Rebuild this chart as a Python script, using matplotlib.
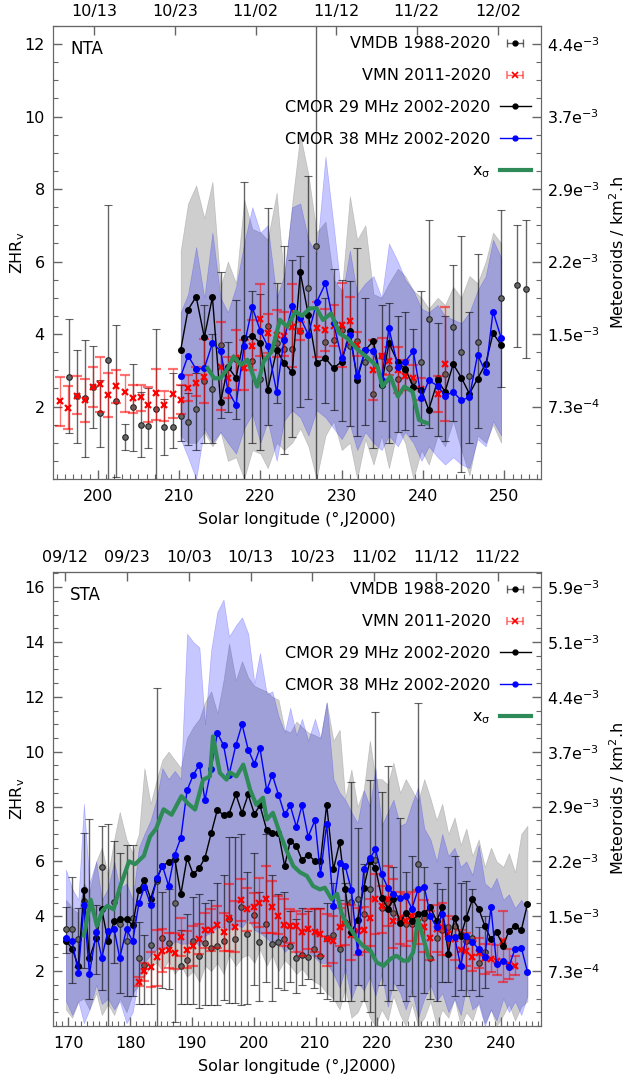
import numpy as np
import matplotlib.pyplot as plt
from matplotlib.lines import Line2D
from matplotlib.ticker import MultipleLocator, NullLocator

# ---------------- NTA ----------------
nta_vmdb_sl = [196.5, 197.4, 198.4, 199.4, 200.3, 201.3, 202.3, 203.3, 204.3, 205.3, 206.2, 207.2,
               208.2, 209.2, 210.2, 211.1, 212.1, 213.1, 214.1, 215.1, 216.0, 217.0, 218.0, 219.0,
               220.0, 220.9, 222.0, 222.9, 223.9, 224.9, 225.9, 226.8, 228.0, 229.0, 230.0, 231.0,
               231.9, 232.9, 233.9, 234.9, 235.8, 236.9, 237.8, 238.8, 239.8, 240.7, 241.8, 242.7,
               243.7, 244.7, 245.7, 246.7, 249.6, 251.6, 252.6]
nta_vmdb_zhr = [2.82, 2.28, 2.23, 2.55, 1.82, 3.27, 2.16, 1.15, 2.00, 1.50, 1.47, 1.93,
                1.44, 1.44, 1.75, 1.56, 1.93, 2.70, 2.48, 3.70, 3.10, 3.30, 3.89, 3.25,
                2.75, 4.21, 3.75, 3.60, 3.58, 4.07, 5.27, 6.44, 3.79, 3.83, 4.11, 3.68,
                3.82, 3.24, 2.35, 3.40, 3.06, 2.75, 3.00, 2.70, 3.24, 4.41, 2.80, 2.90,
                4.19, 3.50, 2.85, 3.79, 4.99, 5.34, 5.25]
nta_vmdb_lo = [1.28, 0.99, 0.60, 1.40, 0.88, 0.00, 0.05, 0.80, 0.77, 0.60, 0.85, 0.00,
               0.66, 0.85, 1.05, 0.93, 0.80, 1.00, 1.00, 1.68, 1.85, 1.65, 0.00, 1.00,
               0.80, 1.50, 2.10, 0.70, 1.15, 2.00, 2.20, -1.0, 2.10, 1.90, 1.60, 1.45,
               1.20, 1.50, 0.85, 1.60, 1.00, 1.30, 1.35, 1.20, 1.50, 1.40, 1.20, 1.05,
               1.60, 0.20, 1.00, 1.40, 2.53, 3.63, 3.33]
nta_vmdb_hi = [4.41, 3.55, 3.84, 3.67, 2.74, 7.55, 4.25, 1.51, 3.18, 2.39, 2.50, 4.14,
               2.22, 2.92, 2.59, 2.37, 2.93, 4.79, 4.00, 5.70, 3.78, 4.95, 8.20, 5.20,
               5.10, 7.49, 5.40, 6.42, 6.05, 6.15, 8.35, 14.0, 5.00, 5.80, 5.50, 5.45,
               6.38, 5.00, 3.80, 4.80, 4.85, 4.50, 4.60, 4.15, 5.20, 7.14, 4.30, 4.50,
               5.90, 6.70, 4.60, 6.20, 7.43, 7.02, 7.16]

nta_vmn_sl = [195.4, 196.4, 197.4, 198.4, 199.4, 200.3, 201.3, 202.3, 203.3, 204.3, 205.3, 206.2,
              207.2, 208.2, 209.2, 210.2, 211.1, 212.1, 213.1, 215.1, 216.0, 217.0, 218.0, 219.0,
              220.0, 220.9, 222.0, 222.9, 223.9, 224.9, 226.9, 228.0, 229.0, 230.0, 231.0, 231.9,
              233.9, 234.9, 235.8, 236.9, 237.8, 238.8, 239.8, 241.8, 242.7]
nta_vmn_zhr = [2.14, 1.95, 2.28, 2.17, 2.55, 2.63, 2.32, 2.57, 2.39, 2.23, 2.26, 2.05,
               2.37, 2.05, 2.35, 2.17, 2.51, 2.66, 2.81, 3.10, 2.80, 3.33, 3.06, 3.67,
               4.41, 4.02, 3.98, 3.95, 4.19, 4.07, 4.16, 4.11, 4.22, 4.25, 4.37, 3.70,
               3.00, 3.40, 3.26, 3.01, 2.85, 2.80, 2.48, 2.35, 3.17]
nta_vmn_lo = [1.47, 1.37, 1.80, 1.56, 2.00, 1.86, 1.70, 2.10, 1.85, 1.82, 1.88, 1.56,
              1.63, 1.59, 1.68, 1.80, 2.14, 2.28, 2.09, 1.91, 2.23, 2.46, 2.46, 3.01,
              3.40, 3.47, 3.38, 3.40, 3.10, 3.84, 3.38, 3.54, 3.66, 3.10, 3.73, 3.40,
              2.18, 2.90, 2.87, 2.37, 2.46, 2.48, 2.18, 1.86, 1.59]
nta_vmn_hi = [2.81, 2.57, 2.83, 2.75, 3.10, 3.38, 2.92, 3.00, 2.87, 2.60, 2.60, 2.53,
              3.03, 2.44, 3.03, 2.60, 2.86, 3.08, 3.86, 4.34, 3.38, 4.10, 3.84, 4.39,
              5.37, 4.56, 4.65, 4.60, 5.37, 4.34, 4.87, 4.70, 4.80, 5.40, 5.03, 4.06,
              3.84, 3.88, 3.64, 3.64, 3.28, 3.15, 2.78, 2.83, 4.74]

nta_cmor_sl = [210.2, 211.1, 212.1, 213.1, 214.1, 215.1, 216.0, 217.0, 218.0, 219.0, 220.0,
               220.9, 222.0, 222.9, 223.9, 224.9, 225.9, 226.9, 228.0, 229.0, 230.0, 231.0,
               231.9, 232.9, 233.9, 234.9, 235.8, 236.9, 237.8, 238.8, 239.8, 240.7, 241.8,
               242.7, 243.7, 244.7, 245.7, 246.7, 247.7, 248.6, 249.6]
nta_c29 = [3.56, 4.67, 5.03, 3.91, 5.02, 2.12, 3.10, 2.79, 3.89, 3.95, 3.75,
           2.46, 3.56, 3.21, 2.94, 5.70, 4.52, 3.20, 3.33, 3.06, 3.24, 4.07,
           2.74, 3.56, 3.81, 2.60, 3.75, 3.22, 3.04, 2.55, 2.46, 1.91, 2.72,
           2.41, 3.17, 2.80, 2.35, 2.77, 3.18, 4.02, 3.70]
nta_c38 = [2.83, 3.40, 3.03, 3.05, 3.75, 3.54, 2.45, 2.04, 3.68, 4.74, 4.08,
           3.66, 2.40, 3.84, 4.76, 4.45, 3.98, 4.87, 5.40, 4.30, 3.33, 3.96,
           2.83, 3.56, 3.54, 2.74, 4.16, 3.10, 3.24, 3.52, 2.23, 2.72, 2.57,
           2.30, 2.40, 2.17, 2.26, 3.43, 2.94, 4.62, 3.89]
nta_c29_lo = [1.2, 1.0, 1.0, 1.3, 0.9, 1.3, 0.5, 0.6, 0.0, 0.8, 0.7,
              0.3, 1.0, 0.8, 1.0, 1.4, 0.9, 0.0, 1.2, 1.6, 0.8, 1.0,
              0.0, 1.1, 0.4, 1.2, 0.3, 1.4, 1.0, 0.0, 0.8, 0.4, 1.2,
              0.9, 1.6, 0.8, 0.1, 1.2, 1.0, 1.5, 1.0]
nta_c29_hi = [6.3, 7.6, 8.1, 7.2, 8.2, 5.3, 6.0, 5.4, 7.7, 6.9, 6.8,
              6.6, 7.9, 5.5, 7.6, 9.5, 8.4, 6.8, 7.1, 5.5, 5.2, 7.8,
              6.6, 7.0, 5.1, 5.0, 5.4, 5.8, 5.6, 5.2, 5.0, 4.7, 5.0,
              4.8, 5.3, 5.0, 5.6, 5.4, 6.0, 6.8, 6.5]
nta_c38_lo = [1.1, 0.6, 0.0, 1.4, 1.0, 1.3, 1.0, 0.7, 1.4, 1.8, 1.0,
              1.6, 0.5, 1.6, 1.9, 1.7, 1.2, 1.9, 1.7, 1.4, 1.1, 1.5,
              0.8, 1.3, 1.0, 0.8, 1.2, 0.9, 1.3, 1.0, 0.5, 0.9, 0.6,
              0.4, 0.6, 0.4, 0.3, 1.1, 0.9, 1.6, 1.2]
nta_c38_hi = [4.6, 5.1, 6.4, 5.0, 6.8, 5.0, 4.6, 5.3, 6.5, 7.5, 6.8,
              7.0, 5.0, 5.6, 7.5, 7.6, 6.6, 6.2, 8.9, 7.0, 5.0, 6.3,
              5.1, 5.4, 5.6, 5.0, 6.5, 6.0, 5.5, 5.2, 4.7, 4.6, 4.8,
              4.5, 4.4, 4.3, 4.6, 5.2, 5.6, 6.6, 6.1]

nta_xs_sl = [213.5, 214.3, 215.1, 216.0, 216.7, 217.6, 218.4, 219.6, 220.4, 221.4, 222.4, 223.3,
             224.3, 225.1, 226.1, 226.9, 227.7, 228.7, 229.7, 230.7, 232.0, 233.0, 234.4, 235.0,
             236.0, 236.9, 237.7, 238.7, 239.5, 240.5]
nta_xs = [3.06, 2.78, 2.78, 3.06, 3.38, 3.15, 3.29, 2.55, 3.24, 3.52, 4.39, 4.20,
          4.62, 4.50, 4.71, 4.71, 4.39, 4.57, 4.02, 3.88, 3.56, 3.38, 3.10, 2.55,
          2.83, 2.28, 2.55, 2.41, 1.63, 1.54]

nta_date_sl = [199.6, 209.5, 219.4, 229.3, 239.2, 249.2]
nta_dates = ['10/13', '10/23', '11/02', '11/12', '11/22', '12/02']
nta_flux_ticks = [2, 4, 6, 8, 10, 12]
nta_flux = ['7.3e$^{-4}$', '1.5e$^{-3}$', '2.2e$^{-3}$', '2.9e$^{-3}$', '3.7e$^{-3}$', '4.4e$^{-3}$']

# ---------------- STA ----------------
sta_vmdb_sl = [169.6, 170.6, 171.6, 172.5, 173.4, 174.5, 175.4, 176.4, 177.4, 178.3, 179.4, 180.4,
               181.4, 182.3, 183.3, 184.3, 185.2, 186.2, 187.2, 188.2, 189.2, 190.2, 191.2, 192.1,
               193.1, 194.1, 195.1, 196.0, 197.0, 198.0, 198.9, 200.0, 200.9, 201.9, 202.9, 203.9,
               204.9, 205.8, 206.9, 207.8, 208.8, 209.8, 210.7, 211.8, 212.9, 213.9, 214.8, 215.8,
               216.8, 217.8, 218.8, 219.7, 220.7, 221.7, 222.6, 223.7, 224.6, 225.6, 226.6, 227.6,
               228.6, 229.6, 230.5, 231.5, 232.5, 233.5, 234.4, 235.4, 236.4, 237.4]
sta_vmdb_zhr = [3.53, 3.53, 3.16, 4.56, 4.32, 3.20, 5.79, 3.10, 4.52, 3.71, 3.08, 3.92,
                2.46, 2.22, 2.96, 5.30, 3.22, 3.04, 4.48, 2.19, 2.39, 3.09, 2.56, 3.03,
                2.86, 2.92, 3.09, 3.89, 3.16, 4.35, 3.35, 4.04, 3.07, 3.73, 2.98, 3.07,
                3.16, 2.92, 2.46, 2.58, 2.50, 2.80, 2.56, 3.22, 3.30, 2.80, 3.79, 4.52,
                4.64, 4.10, 4.98, 6.04, 4.30, 4.50, 4.11, 3.90, 3.70, 3.71, 5.89, 3.95,
                2.47, 3.20, 3.50, 3.62, 3.65, 3.35, 3.10, 3.20, 2.29, 2.70]
sta_vmdb_lo = [2.65, 1.58, 2.15, 2.10, 1.00, 1.90, 1.30, 0.00, 2.30, 1.20, 1.10, 1.10,
               0.80, 0.80, 0.80, 0.00, 1.40, 1.35, 0.15, 0.80, 0.80, 0.80, 0.65, 0.75,
               0.75, 0.75, 0.95, 0.85, 0.85, 0.75, 0.80, 1.50, 0.90, 1.60, 0.90, 1.40,
               1.30, 1.60, 1.20, 1.50, 1.70, 1.40, 1.20, 1.00, 0.90, 0.90, 0.90, 0.90,
               1.50, 0.90, 0.50, 0.00, 1.50, 0.90, 1.30, 1.50, 0.90, 1.10, 0.00, 1.20,
               1.00, 0.90, 1.60, 1.60, 1.10, 1.30, 1.10, 1.30, 1.10, 1.40]
sta_vmdb_hi = [4.35, 5.43, 4.30, 7.02, 7.53, 4.40, 7.30, 7.35, 6.75, 6.30, 6.60, 6.60,
               3.80, 3.30, 4.50, 12.34, 4.90, 5.00, 6.10, 3.50, 4.10, 4.70, 4.80, 4.50,
               4.60, 5.20, 5.50, 6.90, 6.90, 7.00, 5.60, 6.30, 4.90, 7.00, 5.50, 4.80,
               4.90, 4.20, 3.90, 4.30, 4.20, 4.30, 4.30, 4.50, 5.20, 4.60, 5.20, 8.90,
               7.20, 5.90, 8.96, 11.43, 8.53, 9.47, 5.80, 7.59, 5.60, 6.20, 11.77, 5.80,
               4.00, 5.20, 5.00, 5.80, 6.20, 5.20, 5.30, 5.00, 3.60, 4.00]

sta_vmn_sl = [181.4, 182.3, 183.3, 184.3, 185.2, 186.2, 187.2, 188.2, 189.2, 190.2, 191.2, 192.1,
              193.1, 194.1, 195.1, 196.0, 197.0, 198.0, 198.9, 200.0, 200.9, 201.9, 202.9, 203.9,
              204.9, 205.8, 206.9, 207.8, 208.8, 209.9, 210.8, 211.8, 212.9, 213.9, 214.8, 215.8,
              216.8, 217.8, 218.8, 219.7, 220.7, 221.7, 222.6, 223.7, 224.6, 225.6, 226.6, 227.6,
              228.6, 229.6, 230.5, 231.5, 232.5, 233.5, 234.4, 235.4, 236.4, 237.4, 238.4, 239.3,
              240.4, 241.3, 242.3]
sta_vmn_zhr = [1.61, 2.01, 2.16, 2.50, 2.74, 2.78, 2.65, 3.26, 2.78, 2.90, 3.16, 3.50,
               3.49, 3.67, 3.44, 3.95, 3.59, 4.58, 4.25, 4.35, 4.50, 4.62, 4.35, 4.01,
               3.67, 3.65, 3.65, 3.43, 3.55, 3.41, 3.35, 3.16, 3.10, 3.59, 3.71, 3.30,
               3.45, 3.50, 3.95, 4.62, 4.38, 4.62, 3.83, 3.92, 3.83, 4.00, 3.95, 3.59,
               3.22, 3.52, 3.59, 3.35, 3.16, 2.76, 2.74, 2.53, 2.65, 2.46, 2.44, 2.38,
               3.10, 2.25, 2.19]
sta_vmn_lo = [1.47, 1.65, 1.41, 1.47, 1.95, 2.13, 2.07, 2.56, 2.13, 2.19, 2.62, 2.86,
              2.74, 2.86, 2.74, 2.74, 2.68, 3.83, 3.47, 3.77, 3.59, 3.40, 3.40, 3.35,
              2.92, 3.04, 2.68, 2.56, 2.80, 2.68, 2.55, 2.20, 2.30, 2.90, 2.95, 2.40,
              2.60, 2.70, 2.92, 3.35, 3.40, 3.65, 2.86, 3.00, 2.90, 3.10, 3.00, 2.70,
              2.40, 2.70, 2.60, 2.60, 2.40, 2.10, 2.20, 2.00, 2.10, 1.90, 1.95, 1.85,
              1.60, 1.70, 1.85]
sta_vmn_hi = [1.77, 2.30, 2.68, 3.50, 3.53, 3.40, 3.40, 3.95, 3.47, 3.65, 3.71, 4.13,
              4.25, 4.38, 4.13, 5.16, 4.56, 5.35, 5.04, 4.86, 5.40, 5.83, 5.29, 4.74,
              4.62, 4.25, 4.19, 4.07, 4.25, 4.25, 4.25, 4.10, 4.00, 4.30, 4.45, 4.40,
              4.30, 4.35, 4.62, 5.53, 5.10, 5.83, 5.35, 4.90, 4.80, 4.90, 4.95, 4.60,
              4.20, 4.40, 4.50, 4.00, 3.90, 3.50, 3.40, 3.10, 3.20, 3.00, 3.00, 2.95,
              4.20, 2.80, 2.55]

sta_cmor_sl = [169.6, 170.6, 171.6, 172.5, 173.4, 174.5, 175.4, 176.4, 177.4, 178.3, 179.4, 180.4,
               181.4, 182.3, 183.3, 184.3, 185.2, 186.2, 187.2, 188.2,
               189.2, 190.2, 191.2, 192.1, 193.1, 194.1, 195.1, 196.0, 197.1, 198.1, 199.1, 200.1, 201.0,
               202.1, 203.0, 204.0, 205.0, 205.9, 206.9, 207.8, 208.8, 209.9, 210.8, 211.8,
               212.9, 213.9, 214.8, 215.8, 216.8, 217.8, 218.8, 219.7, 220.7, 221.7, 222.6,
               223.7, 224.6, 225.6, 226.6, 227.6, 228.6, 229.6, 230.5, 231.5, 232.5, 233.5,
               234.4, 235.4, 236.4, 237.4, 238.4, 239.3, 240.4, 241.3, 242.3, 243.3, 244.3]
sta_c29 = [3.10, 2.82, 2.19, 4.96, 2.46, 3.22, 4.25, 3.10, 3.83, 3.89, 3.89, 3.67,
           4.96, 5.31, 4.64, 5.35, 5.83, 5.98, 6.10, 4.80,
           6.13, 5.53, 5.77, 6.13, 7.02, 7.88, 7.69, 7.74, 8.44, 7.77, 8.44, 7.73, 8.04,
           7.14, 7.04, 7.04, 5.83, 6.74, 6.56, 6.05, 6.25, 6.01, 6.01, 8.07,
           5.71, 6.70, 4.98, 3.41, 3.87, 5.04, 6.01, 5.77, 4.68, 4.28, 4.62,
           3.75, 4.13, 3.83, 4.07, 4.13, 4.32, 3.83, 4.32, 2.62, 3.95, 3.28,
           3.95, 4.62, 4.28, 3.65, 3.16, 3.41, 2.92, 3.47, 3.65, 3.49, 4.44]
sta_c38 = [3.19, 3.10, 1.93, 4.40, 1.90, 3.43, 2.48, 3.47, 3.53, 2.48, 3.53, 3.08,
           4.47, 5.07, 4.42, 5.38, 5.85, 5.12, 6.25, 6.86,
           8.59, 9.15, 9.53, 8.23, 9.38, 10.68, 10.24, 9.16, 10.24, 11.00, 10.07, 9.56, 10.13,
           8.59, 9.16, 8.43, 7.71, 8.04, 7.26, 8.04, 6.90, 7.50, 5.53, 7.35,
           4.38, 5.95, 5.83, 4.96, 2.70, 5.71, 6.11, 6.44, 5.53, 5.04, 4.82,
           4.68, 4.74, 4.28, 4.98, 5.08, 4.00, 3.59, 4.07, 3.22, 3.25, 2.19,
           3.28, 3.07, 2.80, 2.53, 4.32, 2.25, 2.38, 2.16, 2.82, 2.86, 1.98]
sta_c29_lo = [0.6, 0.3, 0.9, 1.0, 0.6, 1.2, 0.4, 0.8, 0.4, 1.0, 0.5, 1.2,
              1.5, 1.8, 2.2, 2.3, 2.0, 2.4, 1.9, 2.2,
              1.8, 2.0, 1.6, 2.2, 2.0, 2.3, 1.9, 2.6, 2.2, 2.5, 2.6, 2.3, 2.8,
              2.2, 2.6, 2.0, 2.4, 2.2, 1.9, 2.1, 1.8, 1.6, 1.5, 1.2,
              1.0, 0.6, 1.4, 0.3, 0.5, 1.0, 0.3, 0.0, 0.6, 0.2, 1.1,
              0.4, 0.0, 0.8, 0.0, 0.3, 0.9, 0.0, 0.6, 0.3, 1.0, 0.0,
              0.5, 0.2, 0.9, 0.1, 0.6, 0.0, 0.4, 0.8, 0.2, 0.7, 0.9]
sta_c29_hi = [4.6, 4.3, 4.1, 5.2, 4.9, 6.0, 6.5, 5.5, 6.8, 7.8, 6.8, 6.3,
              7.0, 9.4, 8.1, 9.0, 9.7, 10.0, 9.7, 9.4,
              10.5, 10.9, 11.2, 11.8, 12.2, 11.4, 12.6, 13.95, 12.6, 13.3, 12.7, 12.4, 12.3,
              12.2, 12.0, 11.9, 10.8, 10.7, 11.1, 10.9, 10.7, 10.6, 10.5, 11.8,
              10.4, 10.8, 8.3, 9.35, 8.0, 8.6, 10.4, 9.0, 9.0, 8.8, 9.6,
              8.5, 9.0, 8.6, 8.2, 9.0, 8.3, 7.5, 8.1, 7.0, 7.6, 6.6,
              7.2, 6.2, 6.8, 5.8, 6.5, 6.0, 5.8, 6.3, 5.6, 7.0, 7.3]
sta_c38_lo = [0.9, 0.4, 0.9, 0.1, 0.6, 1.5, 0.8, 1.0, 0.6, 0.9, 0.1, 0.5,
              1.8, 2.3, 2.6, 2.8, 2.9, 2.8, 3.1, 3.0,
              3.0, 3.2, 2.9, 3.3, 3.4, 3.6, 3.6, 3.5, 3.7, 3.6, 3.9, 3.5, 3.4,
              3.2, 3.0, 3.1, 2.7, 2.9, 2.6, 2.5, 2.7, 2.5, 2.3, 2.3,
              1.9, 1.4, 2.1, 1.0, 1.6, 1.3, 1.8, 1.1, 1.9, 0.7, 1.6,
              1.2, 0.6, 1.3, 0.3, 1.0, 1.5, 0.9, 1.2, 0.5, 1.0, 0.4,
              1.4, 0.6, 0.8, 0.0, 0.6, 0.2, 1.0, 0.5, 0.9, 0.4, 1.1]
sta_c38_hi = [5.7, 5.0, 4.6, 8.1, 5.2, 6.0, 4.6, 5.0, 6.0, 5.0, 5.2, 4.6,
              6.5, 7.0, 7.5, 8.3, 9.4, 9.0, 9.3, 9.0,
              14.3, 14.0, 13.8, 11.0, 13.7, 15.1, 15.55, 14.2, 14.6, 14.9, 14.3, 12.5, 13.6,
              12.1, 12.2, 11.3, 10.7, 11.6, 10.6, 11.2, 10.4, 11.2, 10.5, 11.8,
              9.0, 8.5, 8.25, 7.8, 7.4, 8.6, 8.0, 9.4, 7.3, 7.8, 8.25,
              7.3, 7.4, 8.1, 8.7, 7.2, 6.8, 6.0, 7.0, 6.2, 6.5, 5.8,
              6.0, 5.5, 6.6, 5.2, 5.0, 5.4, 4.6, 4.8, 4.3, 4.6, 4.2]

sta_xs_sl = [172.5, 173.6, 174.6, 175.5, 176.3, 177.3, 178.4, 179.8, 180.8, 182.2, 183.2, 184.2,
             185.4, 186.7, 188.3, 189.4, 190.5, 191.8, 192.9, 193.4, 194.5, 195.6, 196.1, 197.2,
             198.3, 199.4, 200.4, 201.5, 202.1, 203.1, 204.2, 205.3, 206.4, 207.5, 208.6, 209.6,
             210.7, 211.5, 212.6, 213.5, 214.2, 215.0, 215.9, 216.7, 217.7, 218.9, 219.9, 221.0,
             222.1, 223.1, 224.2, 225.0, 225.8, 226.6, 227.5, 228.3]
sta_xs = [3.30, 4.60, 3.65, 4.20, 4.38, 4.25, 5.10, 6.00, 5.90, 6.20, 6.90, 7.20,
          7.90, 7.70, 8.38, 8.10, 7.89, 8.98, 9.10, 10.56, 9.23, 8.98, 9.25, 9.10,
          9.53, 8.62, 8.07, 8.32, 7.53, 7.77, 7.04, 6.40, 5.83, 5.60, 5.47, 5.10,
          4.98, 5.04, 4.62, 4.82, 4.13, 3.71, 3.47, 3.16, 2.92, 2.74, 2.32, 2.19,
          2.44, 2.56, 2.38, 2.38, 2.68, 3.89, 3.16, 2.50]

sta_date_sl = [169.5, 179.5, 189.5, 199.5, 209.5, 219.5, 229.5, 239.5]
sta_dates = ['09/12', '09/23', '10/03', '10/13', '10/23', '11/02', '11/12', '11/22']
sta_flux_ticks = [2, 4, 6, 8, 10, 12, 14, 16]
sta_flux = ['7.3e$^{-4}$', '1.5e$^{-3}$', '2.2e$^{-3}$', '2.9e$^{-3}$', '3.7e$^{-3}$',
            '4.4e$^{-3}$', '5.1e$^{-3}$', '5.9e$^{-3}$']

plt.rcParams.update({
    'font.family': 'DejaVu Sans',
    'font.size': 11.5,
    'mathtext.default': 'regular',
    'axes.edgecolor': '0.4',
    'xtick.color': '0.4',
    'ytick.color': '0.4',
    'xtick.labelcolor': 'black',
    'ytick.labelcolor': 'black',
})

GREEN = '#2e8b57'
ERR_K = (0, 0, 0, 0.6)
ERR_R = (1, 0, 0, 0.55)


def ticks_in(axis_obj, major=6.5, minor=3.5):
    axis_obj.tick_params(which='major', direction='in', length=major, width=1, pad=6)
    axis_obj.tick_params(which='minor', direction='in', length=minor, width=0.8)


def panel(ax, name, xlim, ylim, yticks, vmdb, vmn, cmor, bands, xs, dates, flux):
    sl, z, lo, hi = map(np.asarray, vmdb)
    nsl, nz, nlo, nhi = map(np.asarray, vmn)
    csl, c29, c38 = cmor
    g_lo, g_hi, b_lo, b_hi = bands

    ax.fill_between(csl, g_lo, g_hi, color='0.5', alpha=0.38, lw=0.5, zorder=1)
    ax.fill_between(csl, b_lo, b_hi, color='blue', alpha=0.22, lw=0.5, zorder=1.5)

    ax.errorbar(sl, z, yerr=[z - lo, hi - z], fmt='o', ms=4, mfc='0.4', mec='0.15', mew=0.8,
                ecolor=ERR_K, elinewidth=1, capsize=3, capthick=1, zorder=3)
    ax.errorbar(nsl, nz, yerr=[nz - nlo, nhi - nz], fmt='x', ms=4, mew=1.6, color='red',
                ecolor=ERR_R, elinewidth=1, capsize=3.5, capthick=1, zorder=4)
    ax.plot(csl, c29, '-o', color='black', ms=4, lw=1, zorder=5)
    ax.plot(csl, c38, '-o', color='blue', ms=4, lw=1, zorder=5)
    ax.plot(xs[0], xs[1], color=GREEN, lw=3, zorder=6)

    ax.set_xlim(*xlim)
    ax.set_ylim(*ylim)
    ax.set_yticks(yticks)
    ax.xaxis.set_major_locator(MultipleLocator(10))
    ax.xaxis.set_minor_locator(MultipleLocator(1))
    ax.yaxis.set_minor_locator(MultipleLocator(0.5))
    ticks_in(ax)
    ax.tick_params(axis='x', which='major', pad=7)
    ax.set_xlabel('Solar longitude (°,J2000)', labelpad=6)
    ax.set_ylabel('ZHR$_{v}$', labelpad=-2)
    ax.text(0.035, 0.95, name, transform=ax.transAxes, va='center', ha='left', fontsize=12)

    # calendar dates along the top
    top = ax.secondary_xaxis('top')
    top.set_xticks(dates[0], dates[1])
    top.xaxis.set_minor_locator(NullLocator())
    top.tick_params(which='major', direction='in', length=6.5, width=1, pad=5)

    # flux scale on the right
    axr = ax.twinx()
    axr.set_ylim(*ylim)
    axr.set_yticks(flux[0], flux[1])
    axr.yaxis.set_minor_locator(MultipleLocator(0.5))
    ticks_in(axr)
    axr.tick_params(axis='y', which='major', pad=4)
    axr.set_ylabel('Meteoroids / km$^2$.h', labelpad=5)

    # legend proxies
    nan = [np.nan]
    h1 = ax.errorbar(nan, nan, xerr=[[1], [1]], fmt='o', ms=3.5, color='black', mec='black',
                     ecolor=ERR_K, elinewidth=1, capsize=3, capthick=1)
    h2 = ax.errorbar(nan, nan, xerr=[[1], [1]], fmt='x', ms=4, mew=1.2, color='red',
                     ecolor=ERR_R, elinewidth=1, capsize=3, capthick=1)
    h3 = Line2D([], [], color='black', marker='o', ms=3.5, lw=1)
    h4 = Line2D([], [], color='blue', marker='o', ms=3.5, lw=1)
    h5 = Line2D([], [], color=GREEN, lw=3)
    ax.legend([h1, h2, h3, h4, h5],
              ['VMDB 1988-2020', 'VMN 2011-2020', 'CMOR 29 MHz 2002-2020',
               'CMOR 38 MHz 2002-2020', 'x$_{\\sigma}$'],
              loc='upper right', bbox_to_anchor=(1.0, 1.0), frameon=False, markerfirst=False,
              labelspacing=1.05, handlelength=1.9, handletextpad=0.6,
              borderaxespad=0.35, borderpad=0.3, fontsize=11.5)


fig = plt.figure(figsize=(6.28, 10.82), dpi=100)
ax1 = fig.add_axes([0.0844, 0.5573, 0.7771, 0.4187])
ax2 = fig.add_axes([0.0844, 0.0518, 0.7771, 0.4195])

panel(ax1, 'NTA', (194.5, 254.5), (0, 12.5), [2, 4, 6, 8, 10, 12],
      (nta_vmdb_sl, nta_vmdb_zhr, nta_vmdb_lo, nta_vmdb_hi),
      (nta_vmn_sl, nta_vmn_zhr, nta_vmn_lo, nta_vmn_hi),
      (nta_cmor_sl, nta_c29, nta_c38),
      (nta_c29_lo, nta_c29_hi, nta_c38_lo, nta_c38_hi),
      (nta_xs_sl, nta_xs),
      (nta_date_sl, nta_dates), (nta_flux_ticks, nta_flux))

panel(ax2, 'STA', (167.5, 246.5), (0, 16.55), [2, 4, 6, 8, 10, 12, 14, 16],
      (sta_vmdb_sl, sta_vmdb_zhr, sta_vmdb_lo, sta_vmdb_hi),
      (sta_vmn_sl, sta_vmn_zhr, sta_vmn_lo, sta_vmn_hi),
      (sta_cmor_sl, sta_c29, sta_c38),
      (sta_c29_lo, sta_c29_hi, sta_c38_lo, sta_c38_hi),
      (sta_xs_sl, sta_xs),
      (sta_date_sl, sta_dates), (sta_flux_ticks, sta_flux))

fig.savefig('out.png', dpi=100)
